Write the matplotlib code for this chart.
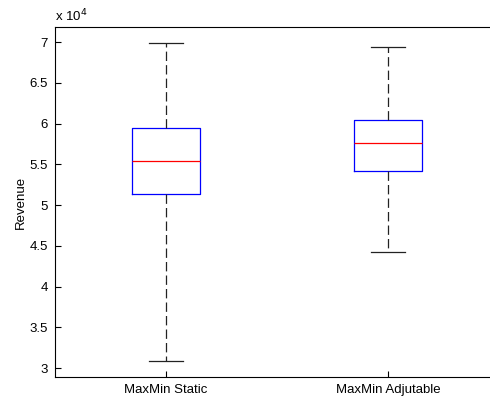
import matplotlib
matplotlib.use("Agg")
import matplotlib.pyplot as plt
from matplotlib.ticker import FuncFormatter, FixedLocator

categories = ["MaxMin Static", "MaxMin Adjutable"]
whislo = [30860, 44270]
q1 = [51310, 54170]
medians = [55440, 57570]
q3 = [59410, 60430]
whishi = [69840, 69420]

plt.rcParams['font.family'] = ['Liberation Sans', 'DejaVu Sans']
FS = 9.5

fig = plt.figure(figsize=(4.9, 3.99), dpi=100)
W, H = 490, 399
ax = fig.add_axes([55 / W, (H - 377.3) / H, 444 / W, (377.3 - 26.7) / H])

stats = []
for i, c in enumerate(categories):
    stats.append(dict(label=c, whislo=whislo[i], q1=q1[i], med=medians[i],
                      q3=q3[i], whishi=whishi[i], fliers=[]))

ax.bxp(stats, positions=[1, 2], widths=0.305, showfliers=False,
       boxprops=dict(color='#0000ff', linewidth=0.9),
       medianprops=dict(color='#ff0000', linewidth=0.9),
       whiskerprops=dict(color='#222222', linewidth=0.9, linestyle=(0, (7.5, 3.3))),
       capprops=dict(color='#222222', linewidth=0.9))

ax.set_xlim(0.5, 2.5)
ax.set_ylim(28860, 71880)
ax.yaxis.set_major_locator(FixedLocator([30000 + 5000 * k for k in range(9)]))
ax.yaxis.set_major_formatter(FuncFormatter(lambda v, p: "%g" % (v / 1e4)))
ax.set_xticks([1, 2])
ax.set_xticklabels(categories)
ax.tick_params(direction='in', length=4, width=0.8, labelsize=FS, colors='black', pad=5)
ax.tick_params(axis='x', pad=5)
for s in ax.spines.values():
    s.set_linewidth(0.8)
ax.set_ylabel("Revenue", fontsize=FS, labelpad=2)
fig.text(55 / W, 1 - 21.7 / H, r"x 10$^{4}$", fontsize=FS, ha='left', va='baseline')

fig.savefig("out.png", dpi=100)
